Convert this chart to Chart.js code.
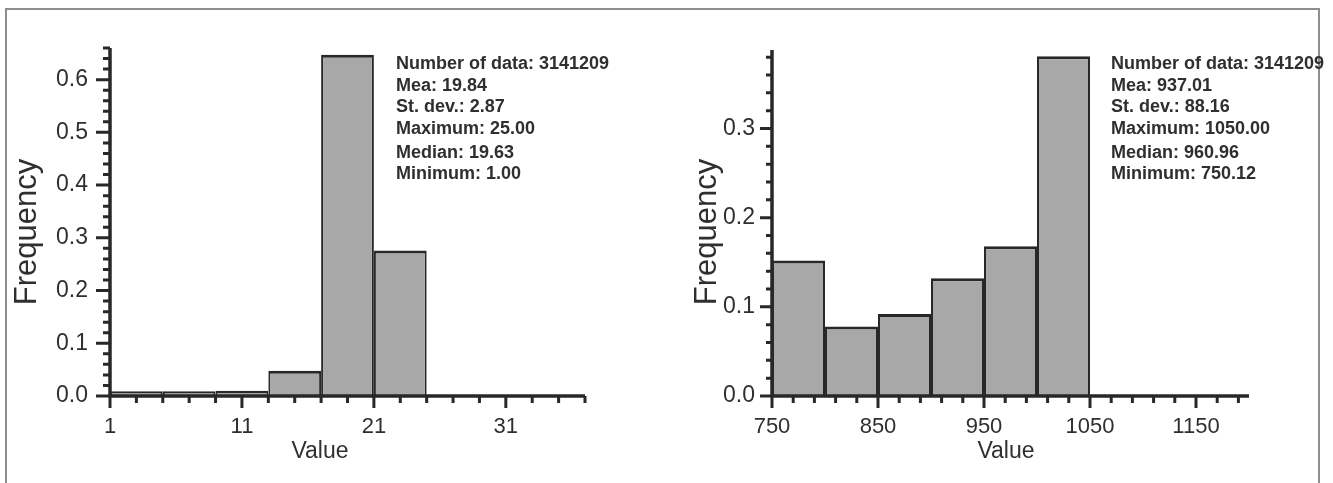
<!DOCTYPE html>
<html>
<head>
<meta charset="utf-8">
<script src="https://cdn.jsdelivr.net/npm/chart.js@4.4.0/dist/chart.umd.min.js"></script>
<style>
  html, body { margin: 0; padding: 0; background: #fff; }
  body { width: 1333px; height: 483px; position: relative; overflow: hidden; }
  .frame { position: absolute; left: 5px; top: 8px; width: 1311px; height: 520px; border: 2px solid #8e8e8e; border-bottom: none; }
  .box { position: absolute; top: 0; }
  #boxA { left: 0; }
  #boxB { left: 680px; }
</style>
</head>
<body>
<div class="frame"></div>
<div class="box" id="boxA"><canvas id="histA" width="660" height="483"></canvas></div>
<div class="box" id="boxB"><canvas id="histB" width="653" height="483"></canvas></div>
<script>
// --- left histogram ---
const binEdgesA = [1, 5, 9, 13, 17, 21, 25];
const freqA = [0.009, 0.009, 0.010, 0.048, 0.647, 0.276];
const xMajorA = [1, 11, 21, 31];
const yMajorA = [0, 0.1, 0.2, 0.3, 0.4, 0.5, 0.6];
const statsA = [
    'Number of data: 3141209',
    'Mea: 19.84',
    'St. dev.: 2.87',
    'Maximum: 25.00',
    'Median: 19.63',
    'Minimum: 1.00'
];

// --- right histogram ---
const binEdgesB = [750, 800, 850, 900, 950, 1000, 1050];
const freqB = [0.152, 0.078, 0.092, 0.132, 0.168, 0.381];
const xMajorB = [750, 850, 950, 1050, 1150];
const yMajorB = [0, 0.1, 0.2, 0.3];
const statsB = [
    'Number of data: 3141209',
    'Mea: 937.01',
    'St. dev.: 88.16',
    'Maximum: 1050.00',
    'Median: 960.96',
    'Minimum: 750.12'
];

const FONT = '"Liberation Sans", Arial, sans-serif';
const INK = '#282828';
const TEXT = '#2f2f2f';

Chart.defaults.font.family = FONT;
Chart.defaults.color = TEXT;
Chart.defaults.animation = false;

/**
 * Build tick list (minor steps + majors flagged)
 */
function buildTicks(min, max, step, majors) {
    const ticks = [];
    const n = Math.floor((max - min) / step + 1e-9);
    for (let i = 0; i <= n; i++) {
        const v = Math.round((min + i * step) * 1e6) / 1e6;
        ticks.push({ value: v, major: majors.some(m => Math.abs(m - v) < 1e-9) });
    }
    return ticks;
}

// axes lines, tick marks, titles and the stats block
const histDecor = {
    id: 'histDecor',
    afterDraw(chart, args, o) {
        const { ctx, chartArea: a } = chart;
        const x = chart.scales.x;
        const y = chart.scales.y;
        ctx.save();
        ctx.strokeStyle = INK;
        ctx.lineCap = 'butt';

        ctx.lineWidth = 3;
        ctx.beginPath();
        x.ticks.forEach(t => {
            const px = x.getPixelForValue(t.value);
            ctx.moveTo(px, a.bottom);
            ctx.lineTo(px, a.bottom + (t.major ? o.xMajorLen : o.xMinorLen));
        });
        y.ticks.forEach(t => {
            const py = y.getPixelForValue(t.value);
            ctx.moveTo(a.left, py);
            ctx.lineTo(a.left - (t.major ? o.yMajorLen : o.yMinorLen), py);
        });
        ctx.stroke();

        ctx.lineWidth = 3.5;
        ctx.beginPath();
        ctx.moveTo(a.left, a.top);
        ctx.lineTo(a.left, a.bottom);
        ctx.moveTo(a.left - 1.5, a.bottom);
        ctx.lineTo(a.right, a.bottom);
        ctx.stroke();

        ctx.fillStyle = TEXT;
        ctx.textBaseline = 'middle';
        ctx.textAlign = 'center';
        ctx.font = '23px ' + FONT;
        ctx.fillText('Value', o.valueX, o.valueY);

        ctx.save();
        ctx.translate(o.freqX, o.freqY);
        ctx.rotate(-Math.PI / 2);
        ctx.font = '31px ' + FONT;
        ctx.fillText('Frequency', 0, 0);
        ctx.restore();

        ctx.textAlign = 'left';
        ctx.textBaseline = 'alphabetic';
        ctx.font = 'bold 18px ' + FONT;
        let by = o.statsY;
        o.stats.forEach((line, i) => {
            ctx.fillText(line, o.statsX, by);
            by += (i === 3) ? 24 : 21.5;
        });
        ctx.restore();
    }
};

function makeHist(canvasId, edges, freq, cfg) {
    const ctx = document.getElementById(canvasId).getContext('2d');
    const points = freq.map((f, i) => ({ x: (edges[i] + edges[i + 1]) / 2, y: f }));
    const xTicks = buildTicks(cfg.xMin, cfg.xMax, cfg.xStep, cfg.xMajor);
    const yTicks = buildTicks(0, cfg.yMax, 0.02, cfg.yMajor);

    return new Chart(ctx, {
        type: 'bar',
        data: {
            datasets: [{
                data: points,
                backgroundColor: '#a8a8a8',
                borderColor: INK,
                borderWidth: { top: 3, left: 2, right: 2, bottom: 0 },
                borderSkipped: false,
                inflateAmount: 0,
                barThickness: 'flex',
                barPercentage: 1,
                categoryPercentage: 1
            }]
        },
        options: {
            responsive: false,
            events: [],
            layout: { padding: { left: 0, top: cfg.top, right: cfg.right, bottom: 0 } },
            plugins: {
                legend: { display: false },
                tooltip: { enabled: false },
                histDecor: cfg.decor
            },
            scales: {
                x: {
                    type: 'linear',
                    min: cfg.xMin,
                    max: cfg.xMax,
                    offset: false,
                    afterBuildTicks: s => { s.ticks = xTicks; },
                    afterFit: s => { s.height = 87; },
                    grid: { offset: false, drawOnChartArea: false, tickLength: 12, tickColor: 'transparent' },
                    border: { display: false },
                    ticks: {
                        autoSkip: false,
                        maxRotation: 0,
                        padding: 6,
                        font: { size: 22 },
                        color: TEXT,
                        callback: v => cfg.xMajor.includes(v) ? String(v) : ''
                    }
                },
                y: {
                    min: 0,
                    max: cfg.yMax,
                    afterBuildTicks: s => { s.ticks = yTicks; },
                    afterFit: s => { s.width = cfg.yWidth; },
                    grid: { drawOnChartArea: false, tickLength: cfg.decor.yMajorLen, tickColor: 'transparent' },
                    border: { display: false },
                    ticks: {
                        autoSkip: false,
                        padding: cfg.yPad,
                        font: { size: 23 },
                        color: TEXT,
                        callback: v => cfg.yMajor.some(m => Math.abs(m - v) < 1e-9) ? v.toFixed(1) : ''
                    }
                }
            }
        },
        plugins: [histDecor]
    });
}

makeHist('histA', binEdgesA, freqA, {
    xMin: 1, xMax: 37, xStep: 2, xMajor: xMajorA,
    yMax: 0.66, yMajor: yMajorA,
    top: 48, right: 75, yWidth: 110, yPad: 8,
    decor: {
        xMajorLen: 12, xMinorLen: 7, yMajorLen: 14, yMinorLen: 7,
        valueX: 320, valueY: 452, freqX: 27, freqY: 232,
        stats: statsA, statsX: 396, statsY: 69
    }
});

makeHist('histB', binEdgesB, freqB, {
    xMin: 750, xMax: 1200, xStep: 20, xMajor: xMajorB,
    yMax: 0.388, yMajor: yMajorB,
    top: 50, right: 84, yWidth: 92, yPad: 5,
    decor: {
        xMajorLen: 12, xMinorLen: 7, yMajorLen: 12, yMinorLen: 6,
        valueX: 326, valueY: 452, freqX: 27, freqY: 232,
        stats: statsB, statsX: 431, statsY: 69
    }
});
</script>
</body>
</html>
